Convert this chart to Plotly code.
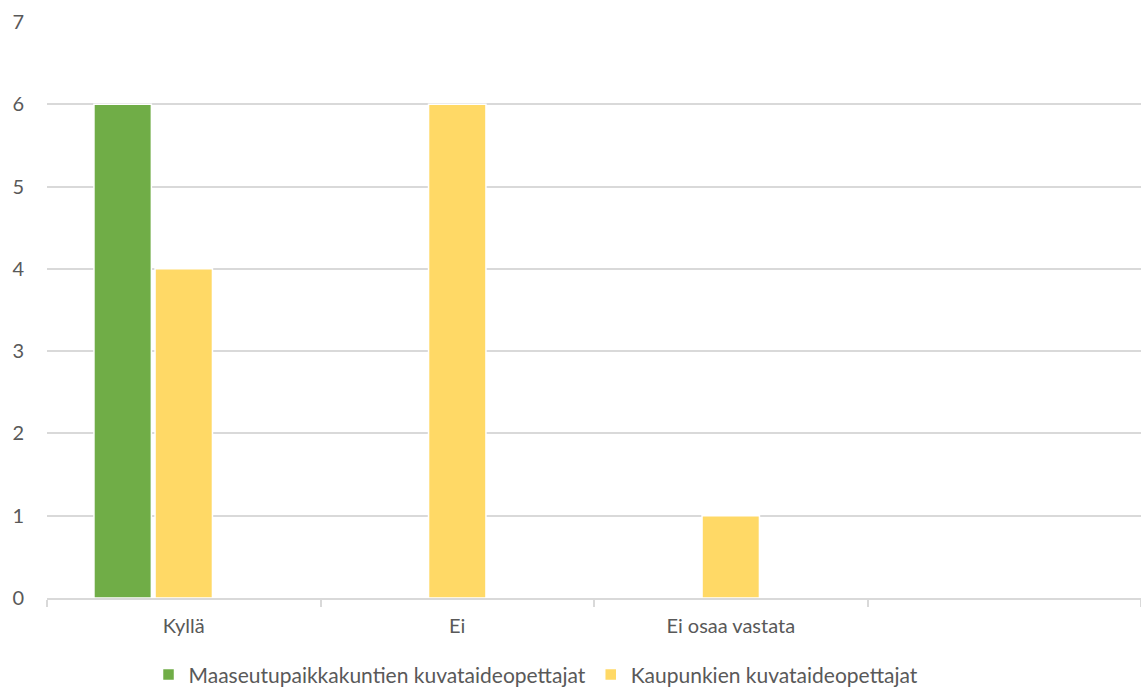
import plotly.graph_objects as go

categories = ["Kyllä", "Ei", "Ei osaa vastata", " "]
rural = [6, None, None, None]
urban = [4, 6, 1, None]
empty_series = [0, 0, 0, 0]
series_names = ["Maaseutupaikkakuntien kuvataideopettajat", "Kaupunkien kuvataideopettajat"]
y_ticks = [0, 1, 2, 3, 4, 5, 6, 7]

GREEN = "#70AD47"
YELLOW = "#FFD966"
TEXT = "#595959"
GRID = "#D9D9D9"
FONT = "Lato, Open Sans, sans-serif"

fig = go.Figure()
fig.add_trace(go.Bar(x=categories, y=rural, name=series_names[0],
                     marker=dict(color=GREEN, line=dict(color="white", width=1.5))))
fig.add_trace(go.Bar(x=categories, y=urban, name=series_names[1],
                     marker=dict(color=YELLOW, line=dict(color="white", width=1.5))))
fig.add_trace(go.Bar(x=categories, y=empty_series, showlegend=False, hoverinfo="skip",
                     marker=dict(color="rgba(0,0,0,0)", line=dict(width=0))))

fig.update_layout(
    width=1141, height=688,
    margin=dict(l=47, r=0, t=22, b=90, autoexpand=False),
    paper_bgcolor="white", plot_bgcolor="white",
    barmode="group", bargap=0.33, bargroupgap=0.06,
    font=dict(family=FONT, size=20, color=TEXT),
    legend=dict(orientation="h", x=0.447, xanchor="center",
                yref="container", y=0.019, yanchor="middle",
                font=dict(family=FONT, size=21, color=TEXT), traceorder="normal"),
)
fig.update_xaxes(
    type="category", categoryorder="array", categoryarray=categories,
    range=[-0.5, 3.5], tickson="boundaries", ticks="outside", ticklen=7,
    tickcolor=GRID, tickwidth=1.5, showline=True, linecolor=GRID, linewidth=1.5,
    showgrid=False, ticklabelstandoff=9, automargin=False,
    tickfont=dict(family=FONT, size=20, color=TEXT),
)
fig.update_yaxes(
    range=[0, 7], tickvals=y_ticks, showgrid=True, gridcolor=GRID, gridwidth=1.5,
    zeroline=False, showline=False, ticks="", ticklabelstandoff=22, automargin=False,
    tickfont=dict(family=FONT, size=20, color=TEXT),
)

fig.write_html("out.html")
